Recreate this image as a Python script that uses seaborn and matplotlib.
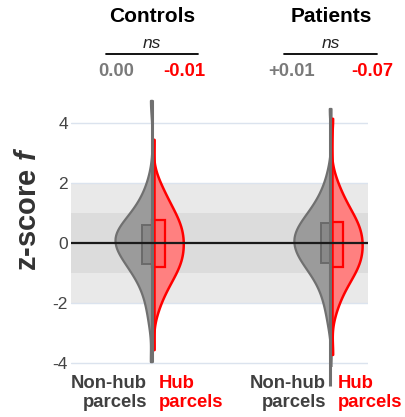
import numpy as np
import pandas as pd
import matplotlib
matplotlib.use("Agg")
import matplotlib.pyplot as plt
import seaborn as sns
from matplotlib.transforms import blended_transform_factory
from matplotlib.patches import Rectangle
from matplotlib.lines import Line2D

# ---------------- data ----------------
groups = ["Controls", "Patients"]
parcel_types = ["Non-hub", "Hub"]

ctrl_nonhub = [-3.97, -2.75, -2.3, -1.95, -1.7, -1.5, -1.33, -1.18, -1.05, -0.95,
               -0.86, -0.78, -0.71, -0.64, -0.57, -0.5, -0.44, -0.38, -0.32, -0.26,
               -0.2, -0.15, -0.1, -0.05, 0.0, 0.05, 0.1, 0.14, 0.18, 0.22,
               0.26, 0.3, 0.34, 0.38, 0.43, 0.48, 0.54, 0.6, 0.67, 0.74,
               0.82, 0.91, 1.0, 1.1, 1.22, 1.36, 1.53, 1.75, 2.15, 4.77]
ctrl_hub = [-3.57, -2.4, -2.05, -1.82, -1.64, -1.5, -1.38, -1.27, -1.17, -1.08,
            -0.99, -0.91, -0.83, -0.77, -0.7, -0.64, -0.57, -0.51, -0.45, -0.38,
            -0.32, -0.25, -0.19, -0.13, -0.06, 0.0, 0.07, 0.13, 0.19, 0.26,
            0.32, 0.39, 0.45, 0.51, 0.58, 0.64, 0.71, 0.77, 0.85, 0.93,
            1.02, 1.11, 1.21, 1.32, 1.44, 1.57, 1.72, 1.9, 2.2, 3.47]
pat_nonhub = [-4.8, -2.7, -2.25, -1.92, -1.67, -1.48, -1.31, -1.16, -1.03, -0.92,
              -0.83, -0.75, -0.68, -0.62, -0.56, -0.5, -0.44, -0.38, -0.32, -0.26,
              -0.2, -0.15, -0.1, -0.05, 0.0, 0.05, 0.1, 0.15, 0.2, 0.25,
              0.3, 0.35, 0.4, 0.45, 0.5, 0.55, 0.61, 0.67, 0.74, 0.82,
              0.9, 0.99, 1.09, 1.2, 1.33, 1.48, 1.66, 1.9, 2.35, 4.5]
pat_hub = [-3.73, -2.35, -2.0, -1.78, -1.61, -1.47, -1.35, -1.24, -1.14, -1.05,
           -0.97, -0.9, -0.83, -0.77, -0.71, -0.65, -0.59, -0.52, -0.46, -0.4,
           -0.34, -0.28, -0.22, -0.16, -0.1, -0.03, 0.03, 0.09, 0.15, 0.21,
           0.27, 0.33, 0.39, 0.46, 0.52, 0.58, 0.64, 0.7, 0.77, 0.85,
           0.93, 1.02, 1.12, 1.23, 1.35, 1.49, 1.65, 1.85, 2.15, 4.17]

mean_labels_nonhub = ["0.00", "+0.01"]
mean_labels_hub = ["-0.01", "-0.07"]
sig_labels = ["ns", "ns"]
xlabel_nonhub = "Non-hub\nparcels"
xlabel_hub = "Hub\nparcels"
ytick_values = [-4, -2, 0, 2, 4]
ytick_labels = ["-4", "-2", "0", "2", "4"]

GRAY_FILL = "#9b9b9b"
GRAY_EDGE = "#707070"
RED_FILL = "#ff8080"
RED_EDGE = "#ff0000"
HUB_WIDTH_RATIO = 0.84

# ---------------- frame ----------------
sns.set_theme(style="white")
plt.rcParams["font.family"] = ["Liberation Sans", "DejaVu Sans"]
plt.rcParams["mathtext.fontset"] = "custom"
plt.rcParams["mathtext.it"] = "Liberation Sans:italic:bold"
plt.rcParams["mathtext.rm"] = "Liberation Sans:bold"

data = {("Controls", "Non-hub"): ctrl_nonhub, ("Controls", "Hub"): ctrl_hub,
        ("Patients", "Non-hub"): pat_nonhub, ("Patients", "Hub"): pat_hub}
rows = []
for (g, t), vals in data.items():
    for v in vals:
        rows.append({"group": g, "type": t, "z": v})
df = pd.DataFrame(rows)

W, H = 406, 417
fig = plt.figure(figsize=(W / 100, H / 100), dpi=100)
ax_l, ax_r, ax_t, ax_b = 70.7, 368.0, 95.0, 365.5
ax = fig.add_axes([ax_l / W, 1 - ax_b / H, (ax_r - ax_l) / W, (ax_b - ax_t) / H])

# background bands and grid
ax.axhspan(-2, 2, color="#e9e9e9", lw=0, zorder=0)
ax.axhspan(-1, 1, color="#dcdcdc", lw=0, zorder=0.1)
for y in [-4, -2, 2, 4]:
    ax.axhline(y, color="#dbe3ee", lw=1.0, zorder=0.2)

sns.violinplot(data=df, x="group", y="z", hue="type", order=groups,
               hue_order=parcel_types, split=True, inner=None, cut=0,
               bw_method="silverman", bw_adjust=0.75, density_norm="width",
               common_norm=False, width=0.415, saturation=1,
               palette=[GRAY_FILL, RED_FILL], linewidth=1.6, ax=ax, legend=False)

for coll in ax.collections:
    paths = coll.get_paths()
    if not paths:
        continue
    v = paths[0].vertices
    mx = v[:, 0].mean()
    c = round(mx)
    if mx < c:
        coll.set_facecolor(GRAY_FILL)
        coll.set_edgecolor(GRAY_EDGE)
        coll.set_linewidth(1.6)
    else:
        for p in paths:
            p.vertices[:, 0] = c + (p.vertices[:, 0] - c) * HUB_WIDTH_RATIO
        coll.set_facecolor(RED_FILL)
        coll.set_edgecolor(RED_EDGE)
        coll.set_linewidth(1.8)
    coll.set_zorder(2)

# boxes and center lines
for i, g in enumerate(groups):
    nh = np.array(data[(g, "Non-hub")])
    hb = np.array(data[(g, "Hub")])
    q1, q3 = np.percentile(nh, [25, 75])
    ax.add_patch(Rectangle((i - 0.057, q1), 0.057, q3 - q1, facecolor="#888888",
                           edgecolor="#6a6a6a", lw=1.4, zorder=3))
    q1, q3 = np.percentile(hb, [25, 75])
    ax.add_patch(Rectangle((i, q1), 0.07, q3 - q1, facecolor="#ff6a6a",
                           edgecolor=RED_EDGE, lw=1.6, zorder=3))
    ax.plot([i - 0.003, i - 0.003], [nh.min(), nh.max()], color=GRAY_EDGE,
            lw=2.2, zorder=3.5, clip_on=False, solid_capstyle="butt")
    ax.plot([i + 0.008, i + 0.008], [hb.min(), hb.max()], color=RED_EDGE,
            lw=1.8, zorder=3.4, solid_capstyle="butt")

ax.axhline(0, color="#1a1a1a", lw=1.6, zorder=4)

ax.set_xlim(-0.455, 1.207)
ax.set_ylim(-4.1, 4.95)
ax.set_yticks(ytick_values)
ax.set_yticklabels(ytick_labels)
ax.set_xticks([])
ax.set_xlabel("")
ax.tick_params(axis="y", length=0, pad=2, labelsize=12.5, labelcolor="#444444")
for s in ax.spines.values():
    s.set_visible(False)
ax.set_ylabel(r"z-score $f$", fontsize=21, fontweight="bold", color="#333333")
ax.yaxis.set_label_coords(-0.098, 0.578)

# annotations
tr = blended_transform_factory(ax.transData, fig.transFigure)
fy = lambda px: 1 - px / H
for i, g in enumerate(groups):
    ax.text(i, fy(16), g, transform=tr, ha="center", va="center",
            fontsize=15, fontweight="bold", color="black")
    ax.text(i, fy(44), sig_labels[i], transform=tr, ha="center", va="center",
            fontsize=12.5, fontstyle="italic", color="#222222")
    fig.add_artist(Line2D([i - 0.26, i + 0.258], [fy(54), fy(54)],
                          transform=tr, color="black", lw=1.3))
    off_l = -0.2 if i == 0 else -0.22
    off_r = 0.18 if i == 0 else 0.23
    ax.text(i + off_l, fy(72), mean_labels_nonhub[i], transform=tr,
            ha="center", va="center", fontsize=13.3, fontweight="bold",
            color="#7a7a7a")
    ax.text(i + off_r, fy(72), mean_labels_hub[i], transform=tr,
            ha="center", va="center", fontsize=13.3, fontweight="bold",
            color=RED_EDGE)
    ax.text(i - 0.028, fy(375), xlabel_nonhub, transform=tr, ha="right",
            va="top", multialignment="right", fontsize=13.3,
            fontweight="bold", color="#404040", linespacing=1.15)
    ax.text(i + 0.036, fy(375), xlabel_hub, transform=tr, ha="left",
            va="top", multialignment="left", fontsize=13.3,
            fontweight="bold", color=RED_EDGE, linespacing=1.15)

fig.savefig("out.png", dpi=100)
